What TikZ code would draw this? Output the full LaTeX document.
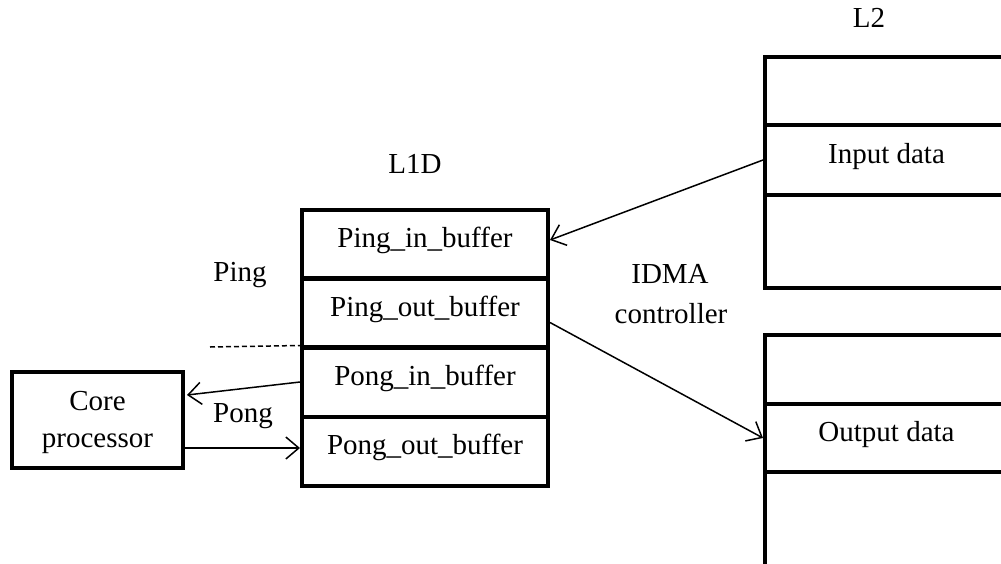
\documentclass[tikz,border=0pt]{standalone}
\usepackage{fontspec}
\setmainfont{Liberation Serif}
\usetikzlibrary{arrows.meta}
\begin{document}
\begin{tikzpicture}[x=1pt,y=-1pt,
  every node/.style={font=\fontsize{29}{40}\selectfont, inner sep=0pt},
  cell/.style={draw, line width=4pt, minimum width=246pt, minimum height=69pt,
    text height=1.0em, text depth=0.22em},
  memcell/.style={draw, line width=4pt, minimum width=243pt, anchor=north west,
    text height=1.0em, text depth=0.22em},
  link/.style={line width=1.5pt, -{Straight Barb[length=13pt,width=22pt,line width=1.5pt]}},
  lbl/.style={anchor=base}]
\useasboundingbox (0,0) rectangle (1001,563);
\clip (0,0) rectangle (1001,563);

% L1D buffers
\node[cell] (pingin)  at (425,244)   {Ping\_in\_buffer};
\node[cell] (pingout) at (425,312.5) {Ping\_out\_buffer};
\node[cell] (pongin)  at (425,382)   {Pong\_in\_buffer};
\node[cell] (pongout) at (425,451)   {Pong\_out\_buffer};

% L2 input region
\node[memcell, minimum height=68pt] (in1) at (763,55)  {};
\node[memcell, minimum height=70pt] (in2) at (763,123) {Input data};
\node[memcell, minimum height=93pt] (in3) at (763,193) {};

% L2 output region
\node[memcell, minimum height=69pt] (out1) at (763,333) {};
\node[memcell, minimum height=68pt] (out2) at (763,402) {Output data};
\node[memcell, minimum height=96pt] (out3) at (763,470) {};

% core
\node[draw, line width=4pt, minimum width=171pt, minimum height=96pt,
  align=center, font=\fontsize{29}{37}\selectfont] (core) at (97.5,420)
  {\rule{0pt}{25pt}Core\\processor};

% labels
\node[lbl] (l2)   at (869,27)  {L2};
\node[lbl] (l1d)  at (415,173) {L1D};
\node[lbl] (ping) at (240,281) {Ping};
\node[lbl] (pong) at (243,422) {Pong};
\node[lbl] (idma) at (670,283) {IDMA};
\node[lbl] (ctrl) at (671,323) {controller};

% separator between ping and pong halves
\coordinate (dashend) at (210,347);
\draw[line width=1.5pt, dash pattern=on 5pt off 3pt] (dashend) -- (pongin.north west);

% transfers
\draw[link] (in2.west) -- ([yshift=4pt]pingin.east);
\draw[link] ([yshift=-10pt]pingout.east) -- (out2.west);
\draw[link] (pongin.west) -- ([xshift=2pt,yshift=25pt]core.east);
\draw[link] ([yshift=-28pt]core.east) -- ([yshift=3pt]pongout.west);
\end{tikzpicture}
\end{document}
